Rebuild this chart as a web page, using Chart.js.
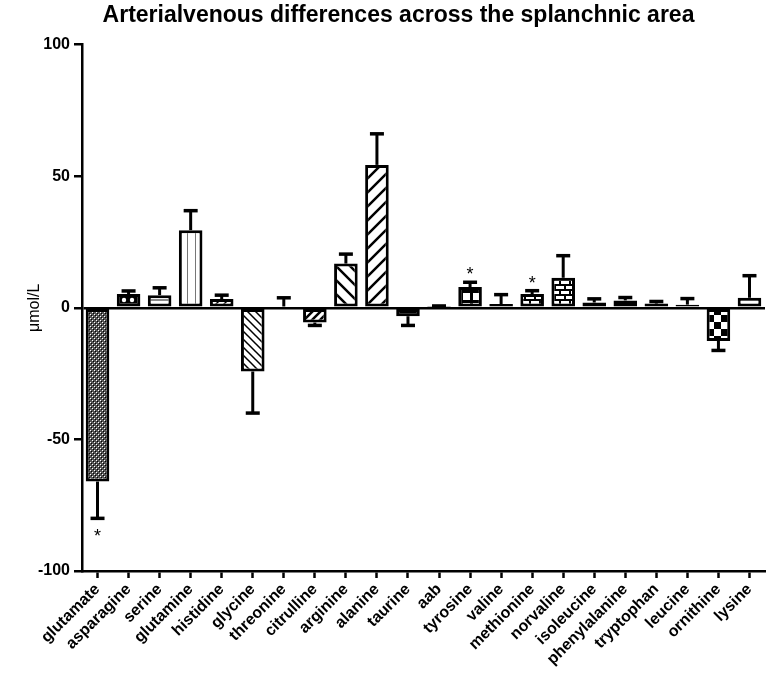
<!DOCTYPE html>
<html>
<head>
<meta charset="utf-8">
<script src="https://cdn.jsdelivr.net/npm/chart.js@4.4.0/dist/chart.umd.min.js"></script>
<style>
  html, body { margin: 0; padding: 0; background: #fff; }
  #wrap { width: 767px; height: 679px; }
</style>
</head>
<body>
<div id="wrap"><canvas id="graf"></canvas></div>
<script>
const aminokyseliny = ["glutamate", "asparagine", "serine", "glutamine", "histidine", "glycine", "threonine",
  "citrulline", "arginine", "alanine", "taurine", "aab", "tyrosine", "valine", "methionine", "norvaline",
  "isoleucine", "phenylalanine", "tryptophan", "leucine", "ornithine", "lysine"];
const rozdily = [-66, 5.2, 4.8, 29.5, 3.3, -24.2, 0.5, -5.6, 16.8, 54.3, -3.2, 0.3, 7.9, 1.4, 5.2, 11.4,
  2.0, 2.8, 1.6, 1.2, -12.6, 3.8];
const chyby = [14, 1.2, 2.8, 7.4, 1.5, 15.8, 3.3, 1.1, 3.6, 11.8, 3.5, 0.4, 1.8, 3.6, 1.3, 8.4,
  1.4, 1.1, 0.8, 2.3, 3.6, 8.4];
const vyznamne = [true, false, false, false, false, false, false, false, false, false, false, false, true,
  false, true, false, false, false, false, false, false, false];
const osaYTicky = [-100, -50, 0, 50, 100];

const vzory = ["fine", "dots", "hlines", "vlines", "diagfine", "backfine", "solid", "diagmed", "backwide",
  "diagwide", "grid", "solid", "window", "solid", "brick", "brick", "dots", "dots", "hlines", "solid",
  "checker", "hlines"];

function udelejVzor(typ) {
  const c = document.createElement("canvas");
  let s = 8;
  if (typ === "diagwide" || typ === "backwide") s = 14;
  if (typ === "window") s = 10;
  if (typ === "checker") s = 14;
  if (typ === "brick") s = 10;
  if (typ === "fine") s = 4;
  c.width = s; c.height = s;
  const g = c.getContext("2d");
  g.fillStyle = "#fff"; g.fillRect(0, 0, s, s);
  g.strokeStyle = "#000"; g.fillStyle = "#000";
  if (typ === "fine") {
    g.fillStyle = "#555"; g.fillRect(0, 0, s, s);
    g.fillStyle = "#fff"; g.fillRect(0, 0, 1, 1); g.fillRect(2, 2, 1, 1);
    g.fillStyle = "#000"; g.fillRect(1, 1, 1, 1); g.fillRect(3, 3, 1, 1);
  } else if (typ === "dots") {
    g.fillRect(0, 0, s, s); g.fillStyle = "#fff";
    g.beginPath(); g.arc(4, 4, 2.2, 0, Math.PI * 2); g.fill();
  } else if (typ === "hlines") {
    g.fillStyle = "#888"; g.fillRect(0, 3, s, 2);
  } else if (typ === "vlines") {
    g.fillStyle = "#777"; g.fillRect(3, 0, 1, s);
  } else if (typ === "diagfine" || typ === "diagmed" || typ === "diagwide") {
    g.lineWidth = typ === "diagfine" ? 1.5 : 2.5;
    g.beginPath();
    g.moveTo(0, s); g.lineTo(s, 0);
    g.moveTo(-s / 2, s / 2); g.lineTo(s / 2, -s / 2);
    g.moveTo(s / 2, s * 1.5); g.lineTo(s * 1.5, s / 2);
    g.stroke();
  } else if (typ === "backfine" || typ === "backwide") {
    g.lineWidth = typ === "backfine" ? 1.5 : 2.5;
    g.beginPath();
    g.moveTo(0, 0); g.lineTo(s, s);
    g.moveTo(-s / 2, s / 2); g.lineTo(s / 2, s * 1.5);
    g.moveTo(s / 2, -s / 2); g.lineTo(s * 1.5, s / 2);
    g.stroke();
  } else if (typ === "solid") {
    g.fillRect(0, 0, s, s);
  } else if (typ === "grid") {
    g.fillRect(0, 0, s, 2); g.fillRect(0, 0, 2, s);
  } else if (typ === "window") {
    g.fillRect(0, 0, s, 3); g.fillRect(0, 0, 3, s);
  } else if (typ === "brick") {
    g.fillRect(0, 0, s, s); g.fillStyle = "#fff";
    g.fillRect(1, 1, 8, 3); g.fillRect(6, 6, 8, 3); g.fillRect(-4, 6, 8, 3);
  } else if (typ === "checker") {
    g.fillRect(0, 0, s / 2, s / 2); g.fillRect(s / 2, s / 2, s / 2, s / 2);
  }
  return document.getElementById("graf").getContext("2d").createPattern(c, "repeat");
}

const chybovyPlugin = {
  id: "chybove",
  afterDatasetsDraw(chart) {
    const ctx = chart.ctx;
    const meta = chart.getDatasetMeta(0);
    const osaY = chart.scales.y;
    ctx.save();
    ctx.strokeStyle = "#000";
    meta.data.forEach(function(bar, i) {
      const v = rozdily[i];
      const konec = v >= 0 ? v + chyby[i] : v - chyby[i];
      const y0 = osaY.getPixelForValue(v);
      const y1 = osaY.getPixelForValue(konec);
      ctx.lineWidth = 3;
      ctx.beginPath(); ctx.moveTo(bar.x, y0); ctx.lineTo(bar.x, y1); ctx.stroke();
      ctx.lineWidth = 3.5;
      ctx.beginPath(); ctx.moveTo(bar.x - 7, y1); ctx.lineTo(bar.x + 7, y1); ctx.stroke();
      if (vyznamne[i]) {
        ctx.fillStyle = "#000";
        ctx.font = "18px 'Liberation Sans', Arial, sans-serif";
        ctx.textAlign = "center";
        if (v >= 0) { ctx.textBaseline = "alphabetic"; ctx.fillText("*", bar.x, y1 - 2); }
        else { ctx.textBaseline = "top"; ctx.fillText("*", bar.x, y1 + 10); }
      }
    });
    ctx.restore();
  }
};

window.addEventListener("DOMContentLoaded", function() {
  const ctx = document.getElementById("graf").getContext("2d");
  new Chart(ctx, {
    type: "bar",
    data: {
      labels: aminokyseliny,
      datasets: [{
        data: rozdily,
        backgroundColor: vzory.map(udelejVzor),
        borderColor: "#000",
        borderWidth: 3,
        borderSkipped: false,
        barPercentage: 0.76,
        categoryPercentage: 1
      }]
    },
    options: {
      responsive: true,
      maintainAspectRatio: false,
      animation: false,
      layout: { padding: { left: 32, right: 2, top: 0, bottom: 0 } },
      plugins: {
        legend: { display: false },
        tooltip: { enabled: false },
        title: {
          display: true,
          text: "Arterialvenous differences across the splanchnic area",
          color: "#000",
          font: { family: "'Liberation Sans', Arial, sans-serif", size: 23, weight: "bold" },
          padding: { top: 2, bottom: 15 }
        }
      },
      scales: {
        x: {
          grid: { display: true, drawOnChartArea: false, drawTicks: true, tickLength: 7, tickColor: "#000", tickWidth: 2.5, offset: false },
          border: { display: true, color: "#000", width: 2.5 },
          ticks: {
            color: "#000",
            maxRotation: 45, minRotation: 45,
            autoSkip: false,
            padding: 2,
            font: { family: "'Liberation Sans', Arial, sans-serif", size: 16, weight: "bold" }
          },
          afterFit(scale) { scale.height = 108; }
        },
        y: {
          min: -100, max: 100,
          afterBuildTicks(scale) { scale.ticks = osaYTicky.map(function(v) { return { value: v }; }); },
          grid: {
            drawTicks: true, tickLength: 8, tickColor: "#000", tickWidth: 2.5,
            color: function(c) { return c.tick && c.tick.value === 0 ? "#000" : "rgba(0,0,0,0)"; },
            lineWidth: 2.5
          },
          border: { display: true, color: "#000", width: 2.5 },
          ticks: {
            color: "#000",
            padding: 4,
            font: { family: "'Liberation Sans', Arial, sans-serif", size: 16, weight: "bold" }
          },
          title: {
            display: true,
            text: "μmol/L",
            color: "#000",
            font: { family: "'Liberation Sans', Arial, sans-serif", size: 16 },
            padding: { top: -7, bottom: 0 }
          },
          afterFit(scale) { scale.width = 50; }
        }
      }
    },
    plugins: [chybovyPlugin]
  });
});
</script>
</body>
</html>
